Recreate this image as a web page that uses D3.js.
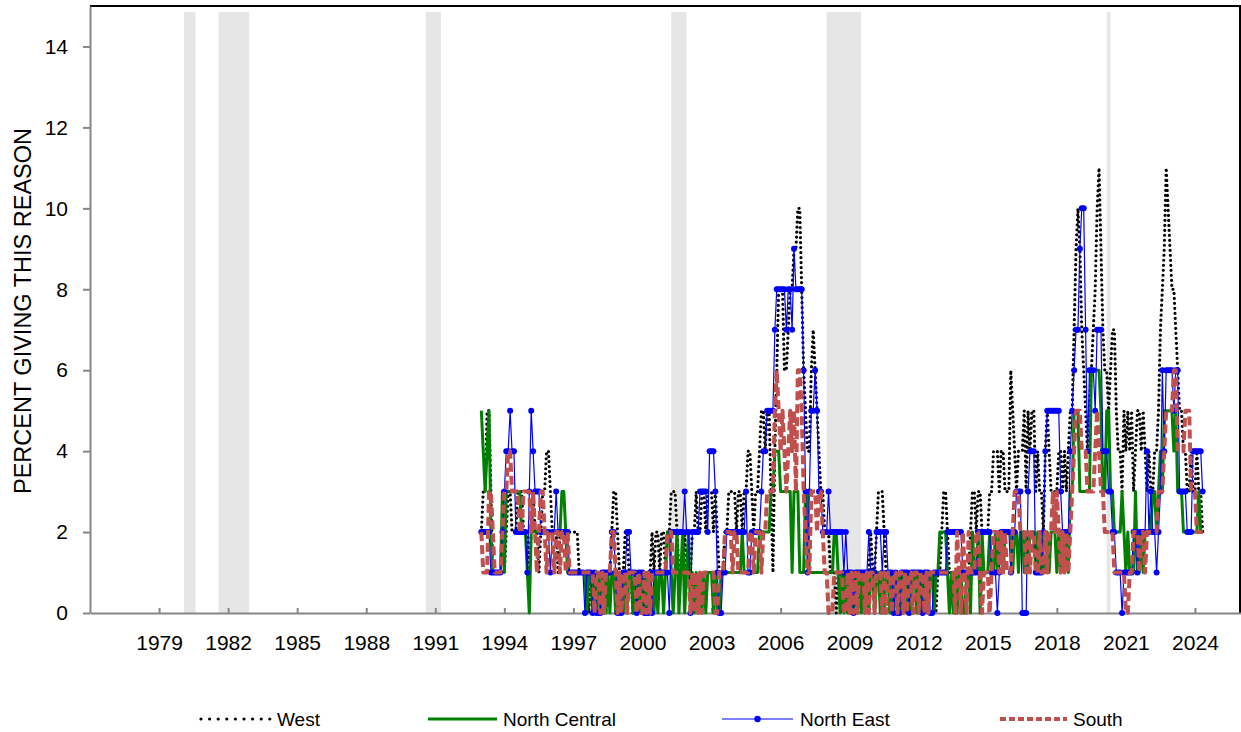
<!DOCTYPE html>
<html lang="en">
<head>
<meta charset="UTF-8">
<title>Percent giving this reason, by region</title>
<script src="https://cdn.jsdelivr.net/npm/d3@7"></script>
<style>
  body { margin: 0; background: #fff; }
  text { font-family: "Liberation Sans", Arial, sans-serif; fill: #000; }
</style>
</head>
<body>
<svg id="svg"></svg>
<script>

var WIDTH = 1241;
var HEIGHT = 732;
var LEFT = 90, RIGHT = 1240, TOP = 6, BOTTOM = 613;

// monthly values, first month = Jan 1993 (one row per year)
var START_YEAR = 1993;

var west = [
  2,3,3,5,5,3,1,1,1,1,1,1,
  1,2,3,3,2,2,2,3,3,3,2,2,
  2,1,2,3,2,2,1,2,3,3,4,4,
  3,2,2,2,1,2,2,2,2,2,2,2,
  2,2,2,1,1,1,1,1,0,1,0,1,
  0,1,0,1,1,0,1,1,2,3,3,2,
  1,0,1,2,2,1,1,0,1,0,1,1,
  0,1,0,1,1,2,1,2,2,1,2,2,
  1,2,2,3,3,3,2,1,1,1,2,1,
  1,1,2,2,3,2,2,3,3,2,3,3,
  3,2,3,2,1,1,1,2,2,3,3,3,
  3,2,3,3,2,3,3,4,4,3,2,3,
  3,4,5,5,4,5,5,3,1,4,6,8,
  8,8,6,6,7,8,8,9,9,10,10,8,
  6,5,4,4,6,7,6,5,4,3,3,2,
  2,2,1,1,1,0,1,1,0,1,1,0,
  1,0,1,1,0,1,0,1,1,1,1,2,
  1,1,2,3,3,3,2,1,1,0,1,1,
  1,1,0,1,1,0,1,1,0,1,1,1,
  0,1,1,1,0,1,1,1,1,0,1,1,
  2,3,3,2,1,1,1,0,1,1,1,1,
  1,1,1,2,3,3,2,3,3,2,2,2,
  2,3,3,4,4,4,3,4,4,3,3,3,
  6,5,4,3,4,4,4,5,3,5,4,5,
  5,3,4,3,3,2,4,5,4,3,3,3,
  3,4,4,3,4,3,4,5,5,7,9,10,
  9,7,6,5,4,5,6,7,8,10,11,9,
  7,6,6,5,6,7,7,5,4,4,3,5,
  4,5,4,5,3,4,5,5,4,5,4,3,
  4,3,3,4,4,5,7,8,9,11,10,9,
  8,8,7,6,5,5,4,4,3,3,4,3,
  3,4,3,3,2
];

var northCentral = [
  5,4,3,4,5,2,1,1,1,1,1,3,
  1,3,3,3,3,3,3,3,3,2,2,2,
  1,0,2,2,2,2,2,2,2,2,2,2,
  2,2,2,2,2,2,3,3,2,1,1,1,
  1,1,1,1,1,1,1,0,1,1,0,1,
  0,1,0,1,1,0,1,0,1,1,0,1,
  0,1,0,1,0,1,1,0,1,0,1,0,
  1,0,1,0,1,0,0,1,0,1,1,0,
  1,2,2,1,0,1,2,0,1,2,0,1,
  2,0,1,0,1,0,1,0,1,0,1,1,
  1,0,1,0,0,1,1,1,1,1,1,1,
  1,1,1,1,2,1,1,1,1,1,1,1,
  1,2,2,2,2,2,2,3,3,4,4,4,
  3,3,3,3,3,3,1,3,3,3,1,1,
  1,3,3,1,1,1,1,1,1,1,1,1,
  1,1,1,1,2,2,1,0,1,0,1,0,
  1,0,1,0,1,1,0,1,0,1,0,1,
  1,0,1,1,0,1,0,1,1,0,1,0,
  1,0,1,0,1,1,0,1,0,1,1,0,
  1,0,1,0,1,0,1,1,0,1,1,2,
  2,2,2,1,0,1,0,1,0,1,1,0,
  0,1,1,0,2,1,1,2,0,2,1,1,
  1,2,1,1,2,1,2,2,1,2,2,2,
  2,1,2,2,1,2,2,1,2,1,2,2,
  2,1,2,1,2,1,1,2,1,2,2,2,
  1,2,1,2,1,2,1,3,3,5,5,5,
  3,3,3,3,3,3,6,6,6,6,6,5,
  3,3,5,5,3,3,2,2,2,2,3,2,
  1,2,1,1,1,3,1,1,2,1,2,2,
  2,2,3,3,2,3,4,3,5,5,5,5,
  5,4,5,3,3,3,2,2,2,2,2,2,
  2,2,3,2,2
];

var northEast = [
  2,2,2,2,2,1,1,1,1,1,1,2,
  3,4,4,5,4,4,2,2,2,2,2,2,
  1,3,5,4,3,3,3,2,2,2,2,2,
  1,2,2,3,2,2,2,2,2,2,1,1,
  1,1,1,1,1,1,0,1,1,1,0,1,
  0,0,0,1,1,1,1,1,2,2,1,0,
  0,0,1,1,2,2,1,1,1,0,1,1,
  1,0,0,0,1,0,1,1,1,1,1,1,
  1,1,0,2,2,2,2,2,2,2,3,2,
  2,0,2,2,2,2,3,3,3,3,2,4,
  4,4,3,1,0,0,1,1,2,2,2,2,
  2,2,2,2,2,2,3,1,1,2,2,2,
  2,2,3,4,4,5,5,5,5,7,8,8,
  8,8,8,7,8,8,7,9,8,8,8,8,
  6,3,1,3,5,5,6,5,3,3,2,2,
  2,3,2,2,2,2,2,2,2,1,2,1,
  1,1,0,1,1,1,1,1,1,1,2,1,
  1,1,2,2,2,1,2,2,1,1,1,0,
  1,0,0,1,1,1,1,0,1,1,1,1,
  1,1,0,1,1,1,0,0,1,1,1,1,
  1,1,1,2,2,2,2,2,2,2,2,1,
  1,1,1,1,1,1,1,2,2,2,2,2,
  2,2,1,1,1,0,1,2,2,2,2,2,
  1,2,2,3,3,3,0,0,0,3,4,4,
  4,1,1,1,1,2,4,5,5,5,5,5,
  5,5,3,2,2,2,2,4,5,6,7,7,
  9,10,10,7,4,6,6,6,5,7,7,7,
  4,4,4,3,3,2,2,1,1,1,0,1,
  1,1,1,1,2,2,1,2,2,2,2,4,
  2,3,2,2,1,2,3,6,4,6,6,6,
  6,5,6,6,3,3,3,3,2,2,2,4,
  4,4,4,4,3
];

var south = [
  2,1,1,1,3,3,2,1,1,1,1,2,
  3,3,4,4,3,3,3,3,2,2,3,3,
  3,3,2,3,2,1,2,3,3,2,1,2,
  2,2,1,2,2,1,2,2,1,2,1,1,
  1,1,1,1,1,1,1,1,1,1,1,0,
  1,1,0,1,0,1,1,1,2,2,1,0,
  1,0,1,1,0,1,1,1,1,0,1,0,
  0,1,0,1,0,1,1,1,1,1,1,1,
  1,2,2,2,1,1,1,1,1,1,1,1,
  1,0,1,0,1,0,1,0,1,1,1,1,
  1,1,0,0,1,1,1,2,2,2,2,1,
  2,2,1,1,1,1,1,1,2,2,1,2,
  2,2,1,2,2,3,3,3,3,5,6,5,
  4,5,4,3,4,5,4,5,3,6,6,5,
  3,2,1,1,3,3,3,2,3,3,2,1,
  1,0,0,0,1,1,1,1,1,0,0,1,
  0,1,0,1,0,1,1,1,0,1,0,1,
  1,0,1,1,1,0,1,0,1,1,0,1,
  1,0,1,1,0,1,0,1,1,0,1,1,
  0,1,1,0,1,0,1,1,1,1,1,1,
  1,1,1,1,1,1,1,0,2,1,0,2,
  1,0,2,1,1,1,2,2,1,0,1,1,
  1,0,1,2,2,2,1,2,1,2,1,1,
  1,2,3,3,3,2,2,2,1,2,1,2,
  2,1,1,2,1,1,2,1,2,2,3,2,
  3,2,1,2,1,2,1,2,3,4,5,5,
  5,4,4,4,3,3,3,3,4,5,4,3,
  3,2,2,2,2,2,1,1,1,1,1,1,
  0,0,1,1,2,2,2,1,2,2,1,2,
  2,2,2,2,2,3,3,3,4,5,5,5,
  5,6,6,4,4,4,4,5,5,5,3,3,
  3,2,2,2,2
];

var seriesNames = ["West", "North Central", "North East", "South"];

// recession periods, [first month, month after the trough]
var recessions = [
  ["1980-02", "1980-08"],
  ["1981-08", "1982-12"],
  ["1990-08", "1991-04"],
  ["2001-04", "2001-12"],
  ["2008-01", "2009-07"],
  ["2020-03", "2020-05"]
];

var yearTicks = [1979, 1982, 1985, 1988, 1991, 1994, 1997, 2000, 2003, 2006, 2009, 2012, 2015, 2018, 2021, 2024];
var yTicks = [0, 2, 4, 6, 8, 10, 12, 14];

var monthToYear = function(s){
    var p = s.split("-");
    return +p[0] + (+p[1] - 1) / 12;
};

var toPoints = function(values){
    return values.map(function(v, i){
        return { t: START_YEAR + i / 12, v: v };
    });
};

var series = [
    { name: seriesNames[0], values: toPoints(west),         color: "#000000", width: 3.2, dash: "0 5",  legendDash: "0 8.6", cap: "round" },
    { name: seriesNames[1], values: toPoints(northCentral), color: "#008000", width: 3,   dash: null,   cap: "butt" },
    { name: seriesNames[2], values: toPoints(northEast),    color: "#0000ff", width: 1.2, dash: null,   cap: "butt", marker: true },
    { name: seriesNames[3], values: toPoints(south),        color: "#c0504d", width: 4,   dash: "9 4",  legendDash: "6 3", cap: "butt" }
];

var svg = d3.select("#svg")
            .attr("width", WIDTH)
            .attr("height", HEIGHT);

var xScale = d3.scaleLinear()
               .domain([1976, 2026])
               .range([LEFT, RIGHT + 1]);

var yScale = d3.scaleLinear()
               .domain([0, 15])
               .range([BOTTOM, TOP]);

// recession shading
svg.selectAll("rect.rec")
   .data(recessions)
   .enter()
   .append("rect")
   .attr("class", "rec")
   .attr("x", function(d){ return xScale(monthToYear(d[0])); })
   .attr("width", function(d){ return xScale(monthToYear(d[1])) - xScale(monthToYear(d[0])); })
   .attr("y", yScale(14.85))
   .attr("height", BOTTOM - yScale(14.85))
   .attr("fill", "#e6e6e6");

// frame: top and right in black
svg.append("line")
   .attr("x1", LEFT).attr("x2", RIGHT + 1)
   .attr("y1", TOP).attr("y2", TOP)
   .attr("stroke", "#000").attr("stroke-width", 2);
svg.append("line")
   .attr("x1", RIGHT).attr("x2", RIGHT)
   .attr("y1", TOP).attr("y2", BOTTOM)
   .attr("stroke", "#000").attr("stroke-width", 2);

var xAxis = d3.axisBottom(xScale)
              .tickValues(yearTicks)
              .tickFormat(d3.format("d"))
              .tickSizeInner(-5)
              .tickSizeOuter(0)
              .tickPadding(22);

var yAxis = d3.axisLeft(yScale)
              .tickValues(yTicks)
              .tickSizeInner(7)
              .tickSizeOuter(0)
              .tickPadding(15);

svg.append("g")
   .attr("class", "x axis")
   .attr("transform", "translate(0," + BOTTOM + ")")
   .call(xAxis);

svg.append("g")
   .attr("class", "y axis")
   .attr("transform", "translate(" + LEFT + ",0)")
   .call(yAxis);

svg.selectAll(".axis path, .axis line")
   .attr("stroke", "#868686")
   .attr("stroke-width", 2);
svg.selectAll(".axis text")
   .attr("font-size", "21px")
   .attr("font-family", "Liberation Sans, Arial, sans-serif")
   .attr("fill", "#000");

svg.append("text")
   .attr("transform", "translate(31,311) rotate(-90)")
   .attr("text-anchor", "middle")
   .attr("font-size", "23.5px")
   .text("PERCENT GIVING THIS REASON");

// series lines
var line = d3.line()
             .x(function(d){ return xScale(d.t); })
             .y(function(d){ return yScale(d.v); });

series.forEach(function(s){
    svg.append("path")
       .datum(s.values)
       .attr("fill", "none")
       .attr("stroke", s.color)
       .attr("stroke-width", s.width)
       .attr("stroke-dasharray", s.dash)
       .attr("stroke-linecap", s.cap)
       .attr("stroke-linejoin", "round")
       .attr("d", line);

    if (s.marker) {
        svg.append("g")
           .selectAll("circle")
           .data(s.values)
           .enter()
           .append("circle")
           .attr("cx", function(d){ return xScale(d.t); })
           .attr("cy", function(d){ return yScale(d.v); })
           .attr("r", 3)
           .attr("fill", s.color);
    }
});

// legend
var legendPos = [
    { x1: 201, x2: 270, tx: 277 },
    { x1: 428, x2: 497, tx: 503 },
    { x1: 722, x2: 793, tx: 800 },
    { x1: 1000, x2: 1067, tx: 1073 }
];
var LEG_Y = 719;

series.forEach(function(s, i){
    var p = legendPos[i];
    svg.append("line")
       .attr("x1", p.x1).attr("x2", p.x2)
       .attr("y1", LEG_Y).attr("y2", LEG_Y)
       .attr("stroke", s.color)
       .attr("stroke-width", s.width)
       .attr("stroke-dasharray", s.legendDash || null)
       .attr("stroke-linecap", s.cap);
    if (s.marker) {
        svg.append("circle")
           .attr("cx", (p.x1 + p.x2) / 2)
           .attr("cy", LEG_Y)
           .attr("r", 3.2)
           .attr("fill", s.color);
    }
    svg.append("text")
       .attr("x", p.tx)
       .attr("y", LEG_Y + 7)
       .attr("font-size", "19px")
       .text(s.name);
});

</script>
</body>
</html>
